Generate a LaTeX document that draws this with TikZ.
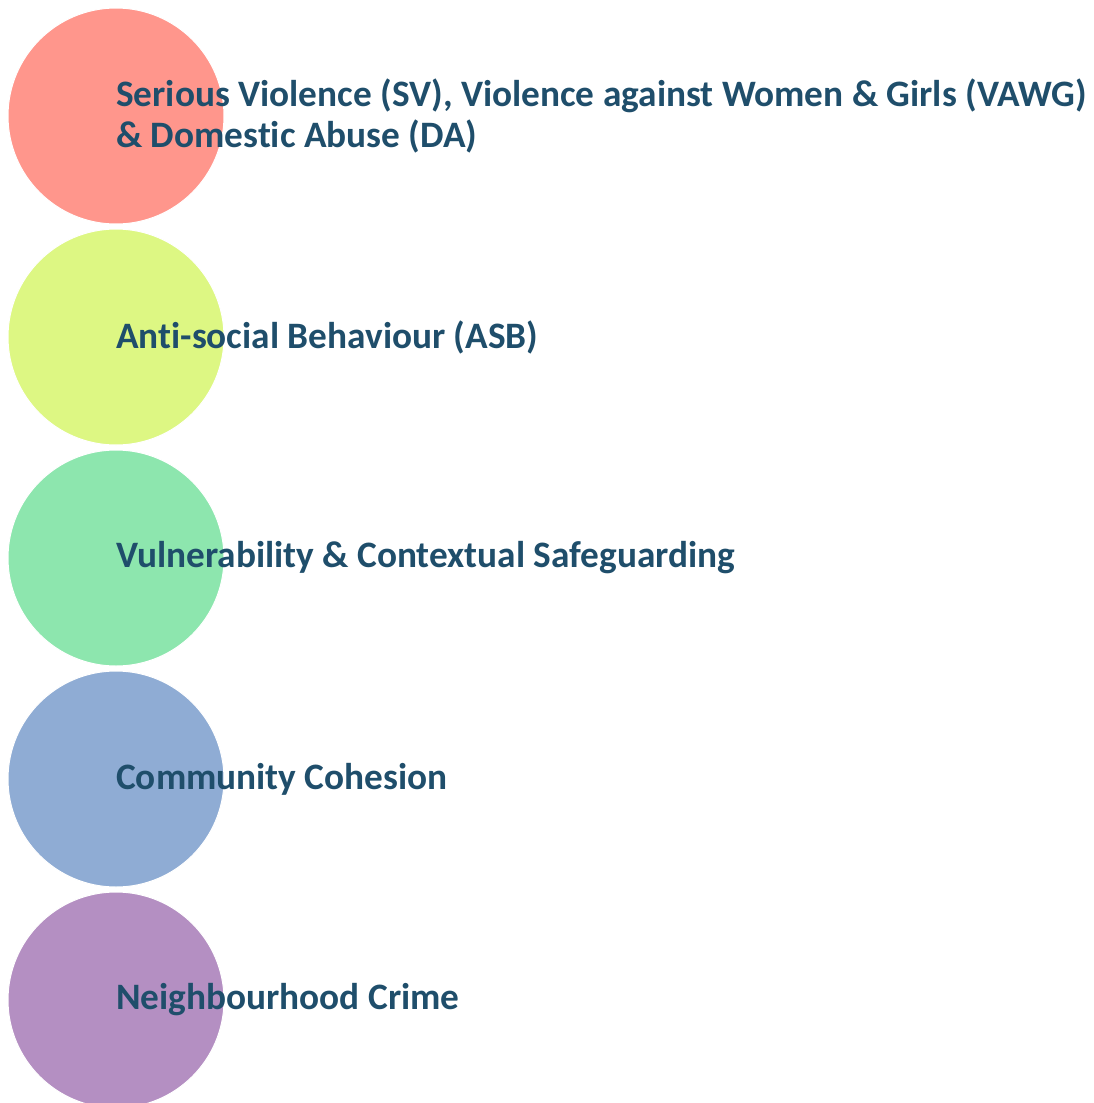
\documentclass[tikz,border=0pt]{standalone}
\usepackage{fontspec}
\setmainfont{Carlito}[RawFeature={-liga;-dlig;-clig}]
\definecolor{cred}{HTML}{FF968C}
\definecolor{cyel}{HTML}{DDF783}
\definecolor{cgrn}{HTML}{8DE6AE}
\definecolor{cblu}{HTML}{8FACD4}
\definecolor{cpur}{HTML}{B48FC2}
\definecolor{ctxt}{HTML}{1F4E6B}
\begin{document}
\begin{tikzpicture}[x=1pt,y=-1pt,
  disc/.style={circle,minimum size=216pt,inner sep=0pt,draw=white,line width=1pt},
  lbl/.style={anchor=west,inner sep=0pt,text=ctxt,font=\fontsize{37.3}{41}\selectfont\bfseries,align=left}]
\useasboundingbox (0,0) rectangle (1093,1103);
\node[disc,fill=cred] (c1) at (116,116) {};
\node[disc,fill=cyel] (c2) at (116,337) {};
\node[disc,fill=cgrn] (c3) at (116,558) {};
\node[disc,fill=cblu] (c4) at (116,779) {};
\node[disc,fill=cpur] (c5) at (116,1000) {};
\node[lbl] (t1) at (116,116) {Serious Violence (SV), Violence against Women \& Girls (VAWG)\\\& Domestic Abuse (DA)};
\node[lbl] (t2) at (116,337) {Anti-social Behaviour (ASB)};
\node[lbl] (t3) at (116,558) {Vulnerability \& Contextual Safeguarding};
\node[lbl] (t4) at (116,779) {Community Cohesion};
\node[lbl] (t5) at (116,1000) {Neighbourhood Crime};
\end{tikzpicture}
\end{document}
